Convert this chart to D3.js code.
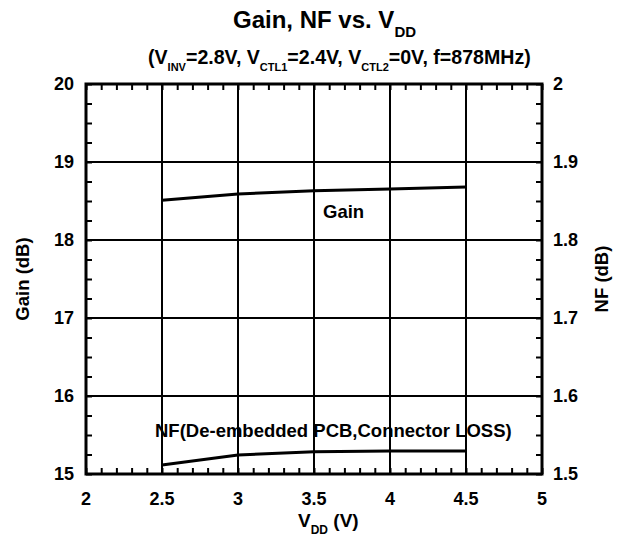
<!DOCTYPE html>
<html><head><meta charset="utf-8">
<script src="https://cdn.jsdelivr.net/npm/d3@7/dist/d3.min.js"></script>
<style>body{margin:0;background:#fff}svg{display:block}text{font-family:"Liberation Sans",Arial,Helvetica,sans-serif;font-weight:bold;fill:#000}</style>
</head><body>
<script>
const vdd = [2.5, 3.0, 3.5, 4.0, 4.5];
const gain = [18.51, 18.59, 18.63, 18.655, 18.68];
const nf = [1.5115, 1.5244, 1.5286, 1.5295, 1.5295];
const xTicks = [2, 2.5, 3, 3.5, 4, 4.5, 5];
const gainTicks = [15, 16, 17, 18, 19, 20];
const nfTicks = [1.5, 1.6, 1.7, 1.8, 1.9, 2];
const nfTickLabels = ["1.5", "1.6", "1.7", "1.8", "1.9", "2"];

const W = 623, H = 536;
const L = 86, R = 542, T = 84, B = 474;
const svg = d3.select("body").append("svg").attr("width", W).attr("height", H);

const x = d3.scaleLinear().domain([2, 5]).range([L, R]);
const yG = d3.scaleLinear().domain([15, 20]).range([B, T]);
const yN = d3.scaleLinear().domain([1.5, 2]).range([B, T]);

// grid
const g = svg.append("g");
g.selectAll(".gx").data(xTicks.slice(1, -1)).join("line")
  .attr("x1", d => x(d)).attr("x2", d => x(d)).attr("y1", T).attr("y2", B)
  .attr("stroke", "#000").attr("stroke-width", 2);
g.selectAll(".gy").data(gainTicks.slice(1, -1)).join("line")
  .attr("y1", d => yG(d)).attr("y2", d => yG(d)).attr("x1", L).attr("x2", R)
  .attr("stroke", "#000").attr("stroke-width", 2);

// minor ticks (inward) via axes
const xMinor = d3.range(2, 5.0001, 0.1);
const yMinor = d3.range(15, 20.0001, 0.25);
const tickStyle = sel => { sel.select(".domain").remove(); sel.selectAll("text").remove(); sel.selectAll("line").attr("stroke-width", 2); };
svg.append("g").attr("transform", `translate(0,${B})`).call(d3.axisBottom(x).tickValues(xMinor).tickSize(-6)).call(tickStyle);
svg.append("g").attr("transform", `translate(0,${T})`).call(d3.axisTop(x).tickValues(xMinor).tickSize(-6)).call(tickStyle);
svg.append("g").attr("transform", `translate(${L},0)`).call(d3.axisLeft(yG).tickValues(yMinor).tickSize(-6)).call(tickStyle);
svg.append("g").attr("transform", `translate(${R},0)`).call(d3.axisRight(yG).tickValues(yMinor).tickSize(-6)).call(tickStyle);

// frame
svg.append("rect").attr("x", L).attr("y", T).attr("width", R - L).attr("height", B - T)
  .attr("fill", "none").attr("stroke", "#000").attr("stroke-width", 3);

// tick labels
svg.append("g").selectAll("text").data(xTicks).join("text")
  .attr("x", d => x(d)).attr("y", 505).attr("text-anchor", "middle").attr("font-size", 18)
  .text(d => d);
svg.append("g").selectAll("text").data(gainTicks).join("text")
  .attr("x", 74).attr("y", d => yG(d) + 6).attr("text-anchor", "end").attr("font-size", 18)
  .text(d => d);
svg.append("g").selectAll("text").data(nfTicks).join("text")
  .attr("x", 553).attr("y", d => yN(d) + 6).attr("text-anchor", "start").attr("font-size", 18)
  .text((d, i) => nfTickLabels[i]);

// lines
const lineG = d3.line().x((d, i) => x(vdd[i])).y(d => yG(d));
const lineN = d3.line().x((d, i) => x(vdd[i])).y(d => yN(d));
svg.append("path").datum(gain).attr("d", lineG).attr("fill", "none").attr("stroke", "#000").attr("stroke-width", 3);
svg.append("path").datum(nf).attr("d", lineN).attr("fill", "none").attr("stroke", "#000").attr("stroke-width", 3);

// series labels
svg.append("text").attr("x", 323).attr("y", 218).attr("font-size", 18.5).text("Gain");
svg.append("text").attr("x", 155).attr("y", 437).attr("font-size", 18.5).text("NF(De-embedded PCB,Connector LOSS)");

// title
const t = svg.append("text").attr("x", 233).attr("y", 28).attr("font-size", 24);
t.append("tspan").text("Gain, NF vs. V");
t.append("tspan").attr("dy", 9).attr("font-size", 15).text("DD");

const s = svg.append("text").attr("x", 148).attr("y", 64).attr("font-size", 19.6);
const parts = [["(V", 0], ["INV", 1], ["=2.8V, V", 0], ["CTL1", 1], ["=2.4V, V", 0], ["CTL2", 1], ["=0V, f=878MHz)", 0]];
let prev = 0;
parts.forEach(([txt, sub]) => {
  const dy = sub ? 7 : (prev ? -7 : 0);
  s.append("tspan").attr("dy", dy).attr("font-size", sub ? 11 : 19.6).text(txt);
  prev = sub;
});

// axis titles
const xt = svg.append("text").attr("x", 298).attr("y", 527).attr("font-size", 19);
xt.append("tspan").text("V");
xt.append("tspan").attr("dy", 7).attr("font-size", 12).text("DD");
xt.append("tspan").attr("dy", -7).text(" (V)");

svg.append("text").attr("transform", `translate(29,279) rotate(-90)`).attr("text-anchor", "middle").attr("font-size", 18.5).text("Gain (dB)");
svg.append("text").attr("transform", `translate(608,279) rotate(-90)`).attr("text-anchor", "middle").attr("font-size", 18.5).text("NF (dB)");
</script>
</body></html>
